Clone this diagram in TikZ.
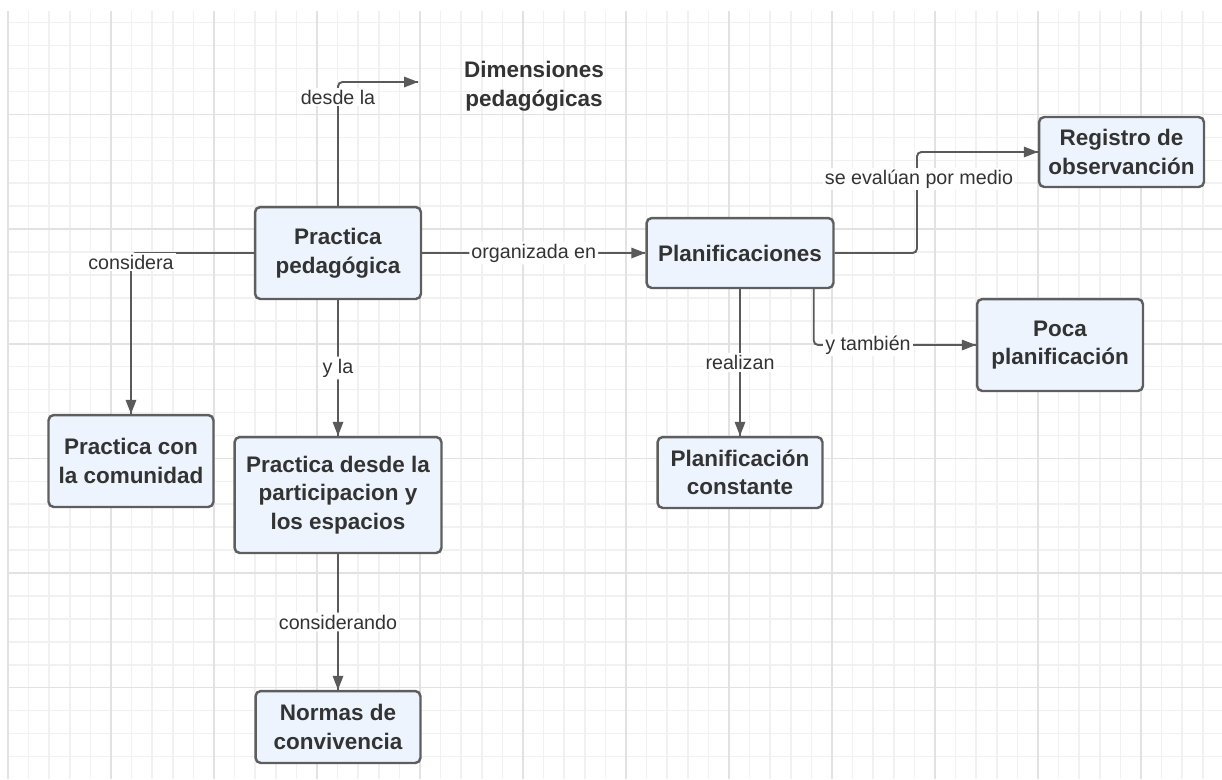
\documentclass[tikz,border=0pt]{standalone}
\usepackage{fontspec}
\setmainfont{Liberation Sans}
\usepackage{tikz}

\definecolor{cajaazul}{HTML}{EDF4FE}
\definecolor{bordegris}{HTML}{5E5E5E}
\definecolor{textogris}{HTML}{333333}
\definecolor{lineagris}{HTML}{5A5A5A}
\definecolor{rejillamenor}{HTML}{F1F1F1}
\definecolor{rejillamayor}{HTML}{E2E2E2}

\tikzset{
  caja/.style={draw=bordegris, fill=cajaazul, line width=1.4pt, rounded corners=3pt,
    align=center, inner sep=0pt, text=textogris,
    font=\bfseries\fontsize{12.8}{16.3}\selectfont},
  etiq/.style={fill=white, inner sep=1.2pt, text=textogris,
    font=\fontsize{11.2}{12}\selectfont},
  flecha/.style={draw=lineagris, line width=1.1pt, rounded corners=2.5pt},
  punta/.style={fill=lineagris},
  rejilla/.style={draw=rejillamenor, line width=0.9pt},
  rejillafuerte/.style={draw=rejillamayor, line width=0.9pt}
}

\begin{document}
\begin{tikzpicture}[x=0.02cm, y=-0.02cm]
		\useasboundingbox (0,0) rectangle (1222,779);
		% grid
		\foreach \i in {0,...,59}
			\draw [rejilla] ({8+20.6*\i},11) -- ({8+20.6*\i},779);
		\foreach \j in {0,...,32}
			\draw [rejilla] (8,{22.7+22.93*\j}) -- (1222,{22.7+22.93*\j});
		\foreach \i in {0,...,11}
			\draw [rejillafuerte] ({8+103*\i},11) -- ({8+103*\i},779);
		\foreach \j in {0,...,5}
			\draw [rejillafuerte] (8,{114.4+114.65*\j}) -- (1222,{114.4+114.65*\j});
		% boxes
		\node [caja, minimum width=3.32cm, minimum height=1.84cm] (prac) at (338,253) {Practica\\pedagógica};
		\node [caja, minimum width=3.3cm, minimum height=1.84cm] (comu) at (131,461) {Practica con\\la comunidad};
		\node [caja, minimum width=4.14cm, minimum height=2.32cm] (part) at (338,495) {Practica desde la\\participacion y\\los espacios};
		\node [caja, minimum width=3.3cm, minimum height=1.44cm] (norm) at (338,727) {Normas de\\convivencia};
		\node [caja, minimum width=3.74cm, minimum height=1.4cm] (plan) at (740,253) {Planificaciones};
		\node [caja, minimum width=3.3cm, minimum height=1.4cm] (regi) at (1121.5,152) {Registro de\\observanción};
		\node [caja, minimum width=3.32cm, minimum height=1.84cm] (poca) at (1060,345) {Poca\\planificación};
		\node [caja, minimum width=3.3cm, minimum height=1.42cm] (cons) at (740,472.5) {Planificación\\constante};
		\node [text=textogris, align=center, font=\bfseries\fontsize{12.8}{16.3}\selectfont] (dime) at (534,86) {Dimensiones\\pedagógicas};
		\coordinate (dimfin) at (418,82);
		% connectors
		\draw [flecha] (prac.north) |- (dimfin);
		\fill [punta] (dimfin) -- ++(-14,-5.5) -- ++(0,11) -- cycle;
		\node [etiq] at (338,97) {desde la};
		\draw [flecha] (prac.west) -| (comu.north);
		\fill [punta] (comu.north) -- ++(-5.5,-14) -- ++(11,0) -- cycle;
		\node [etiq] at (131,262) {considera};
		\draw [flecha] (prac.south) -- node [etiq] {y la} (part.north);
		\fill [punta] (part.north) -- ++(-5.5,-14) -- ++(11,0) -- cycle;
		\draw [flecha] (part.south) -- node [etiq] {considerando} (norm.north);
		\fill [punta] (norm.north) -- ++(-5.5,-14) -- ++(11,0) -- cycle;
		\draw [flecha] (prac.east) -- node [etiq] {organizada en} (plan.west);
		\fill [punta] (plan.west) -- ++(-14,-5.5) -- ++(0,11) -- cycle;
		\draw [flecha] (plan.east) -- (917,253) |- (regi.west);
		\fill [punta] (regi.west) -- ++(-14,-5.5) -- ++(0,11) -- cycle;
		\node [etiq] at (919,179) {se evalúan por medio};
		\draw [flecha] (plan.south) -- node [etiq] {realizan} (cons.north);
		\fill [punta] (cons.north) -- ++(-5.5,-14) -- ++(11,0) -- cycle;
		\draw [flecha] ([xshift=-0.42cm]plan.south east) |- (poca.west);
		\fill [punta] (poca.west) -- ++(-14,-5.5) -- ++(0,11) -- cycle;
		\node [etiq] at (868,345) {y también};
\end{tikzpicture}
\end{document}
